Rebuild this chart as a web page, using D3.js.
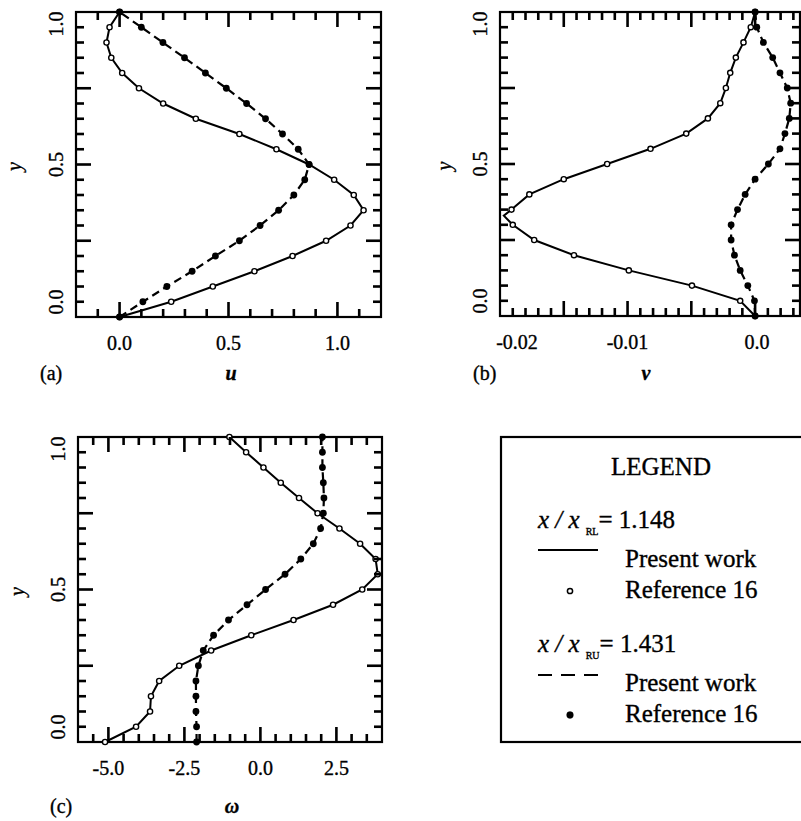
<!DOCTYPE html>
<html>
<head>
<meta charset="utf-8">
<script src="https://cdn.jsdelivr.net/npm/d3@7"></script>
<style>
  body { margin: 0; background: #fff; }
  svg { display: block; }
  .lbl { font-family: "Liberation Serif", "DejaVu Serif", serif; font-size: 20px; fill: #000; stroke: #000; stroke-width: 0.35px; }
</style>
</head>
<body>
<svg id="chart" width="801" height="821" font-family="Liberation Serif, serif"></svg>
<script>
// y stations shared by every profile (0, 0.05, ... 1.0)
const yStations = [0, 0.05, 0.1, 0.15, 0.2, 0.25, 0.3, 0.35, 0.4, 0.45, 0.5,
                   0.55, 0.6, 0.65, 0.7, 0.75, 0.8, 0.85, 0.9, 0.95, 1.0];

// (a) u velocity
const uLower = [0, 0.237, 0.428, 0.619, 0.794, 0.948, 1.06, 1.12, 1.075, 0.985, 0.87,
                0.72, 0.55, 0.35, 0.2, 0.089, 0.012, -0.038, -0.06, -0.046, 0];
const uUpper = [0, 0.107, 0.217, 0.333, 0.44, 0.55, 0.645, 0.73, 0.80, 0.85, 0.87,
                0.82, 0.748, 0.67, 0.583, 0.49, 0.394, 0.298, 0.199, 0.1, 0];

// (b) v velocity
const vLower = [0, -0.00117, -0.00495, -0.0099, -0.0142, -0.01732, -0.0190, -0.0191, -0.0177, -0.015, -0.0116,
                -0.0082, -0.0054, -0.0037, -0.00273, -0.00229, -0.00195, -0.00151, -0.00091, -0.00034, 0];
const vUpper = [0, -0.00005, -0.00057, -0.00117, -0.00162, -0.00188, -0.00188, -0.00138, -0.00078, 0.0, 0.00104,
                0.00195, 0.00234, 0.00268, 0.00279, 0.00252, 0.00195, 0.00138, 0.00065, 0.00013, 0];

// (c) vorticity
const wLower = [-5.11, -4.09, -3.63, -3.6, -3.33, -2.67, -1.62, -0.3, 1.09, 2.39, 3.35,
                3.86, 3.79, 3.28, 2.6, 1.88, 1.27, 0.67, 0.1, -0.47, -1.02];
const wUpper = [-2.1, -2.1, -2.12, -2.12, -2.12, -2.04, -1.88, -1.54, -1.05, -0.44, 0.17,
                0.81, 1.33, 1.74, 1.98, 2.07, 2.09, 2.07, 2.04, 2.04, 2.04];

// solid curve of (b) dips a little past the circles near y = 0.33
const vLineExtra = { y: 0.33, v: -0.0197 };

const yTicks = [0, 0.5, 1.0];
const yTickLabels = ["0.0", "0.5", "1.0"];
const uTicks = [0, 0.5, 1.0], uTickLabels = ["0.0", "0.5", "1.0"];
const vTicks = [-0.02, -0.01, 0], vTickLabels = ["-0.02", "-0.01", "0.0"];
const wTicks = [-5, -2.5, 0, 2.5], wTickLabels = ["-5.0", "-2.5", "0.0", "2.5"];

const svg = d3.select("#chart");
const tickMarks = [];   // filled in by panel(), drawn last

function panel(opts) {
  const x = d3.scaleLinear().domain(opts.xDomain).range([opts.left, opts.right]);
  const y = d3.scaleLinear().domain([0, 1]).range([opts.bottom, opts.top]);
  const g = svg.append("g");

  const isMajor = (v, step) => Math.abs(v / step - Math.round(v / step)) < 1e-6;
  const n0 = Math.ceil(opts.xDomain[0] / opts.xMinor - 1e-6);
  const n1 = Math.floor(opts.xDomain[1] / opts.xMinor + 1e-6);
  const xt = d3.range(n0, n1 + 1).map(i => +(i * opts.xMinor).toFixed(6))
    .filter(v => x(v) > opts.left + 1 && x(v) < opts.right - 1);
  const yt = d3.range(1, 20).map(i => +(i * 0.05).toFixed(3));

  // inward ticks on all four sides, as small filled rects
  const w = 2.6;
  xt.forEach(v => {
    const len = isMajor(v, opts.xMajor) ? 15 : 8;
    tickMarks.push({ x: x(v) - w / 2, y: opts.bottom - len, w: w, h: len });
    tickMarks.push({ x: x(v) - w / 2, y: opts.top, w: w, h: len });
  });
  yt.forEach(v => {
    const len = isMajor(v, 0.25) ? 15 : 8;
    tickMarks.push({ x: opts.left, y: y(v) - w / 2, w: len, h: w });
    tickMarks.push({ x: opts.right - len, y: y(v) - w / 2, w: len, h: w });
  });

  g.append("rect")
    .attr("x", opts.left).attr("y", opts.top)
    .attr("width", opts.right - opts.left).attr("height", opts.bottom - opts.top)
    .attr("fill", "none").attr("stroke", "#000").attr("stroke-width", 2.2);

  // tick labels
  opts.xTicks.forEach((v, i) => {
    g.append("text").attr("class", "lbl")
      .attr("x", x(v) + (opts.xLabelShift ? opts.xLabelShift[i] : 0))
      .attr("y", opts.bottom + 33)
      .attr("text-anchor", "middle").text(opts.xTickLabels[i]);
  });
  const yShift = [-15, 0, 12];
  yTicks.forEach((v, i) => {
    g.append("text").attr("class", "lbl")
      .attr("transform", `translate(${opts.left - 13},${y(v) + yShift[i]}) rotate(-90)`)
      .attr("text-anchor", "middle").text(yTickLabels[i]);
  });
  g.append("text").attr("class", "lbl")
    .attr("transform", `translate(${opts.yTitleX},${y(0.5) + 2}) rotate(-90)`)
    .attr("text-anchor", "middle").style("font-style", "italic").text("y");

  g.append("text").attr("class", "lbl").attr("x", opts.tagX).attr("y", opts.tagY).text(opts.tag);
  g.append("text").attr("class", "lbl").attr("x", opts.titleX).attr("y", opts.tagY)
    .attr("text-anchor", "middle")
    .style("font-style", "italic").style("font-weight", "bold").text(opts.title);

  // curves
  const clip = "clip-" + opts.tag.replace(/[()]/g, "");
  g.append("clipPath").attr("id", clip).append("rect")
    .attr("x", opts.left - 8).attr("y", opts.top - 8)
    .attr("width", opts.right - opts.left + 16).attr("height", opts.bottom - opts.top + 16);

  const line = d3.line().x(d => x(d[0])).y(d => y(d[1]));
  const plot = g.append("g").attr("clip-path", `url(#${clip})`);

  plot.append("path").datum(opts.upper)
    .attr("d", line).attr("fill", "none").attr("stroke", "#000")
    .attr("stroke-width", 2.2).attr("stroke-dasharray", "8,5");
  plot.append("path").datum(opts.lowerLine || opts.lower)
    .attr("d", line).attr("fill", "none").attr("stroke", "#000").attr("stroke-width", 2);

  plot.selectAll(null).data(opts.lower).enter().append("circle")
    .attr("cx", d => x(d[0])).attr("cy", d => y(d[1])).attr("r", 2.6)
    .attr("fill", "#fff").attr("stroke", "#000").attr("stroke-width", 1.4);
  plot.selectAll(null).data(opts.upper).enter().append("circle")
    .attr("cx", d => x(d[0])).attr("cy", d => y(d[1])).attr("r", 3.4)
    .attr("fill", "#000");
}

const zipY = arr => arr.map((v, i) => [v, yStations[i]]);

const vLine = zipY(vLower);
vLine.push([vLineExtra.v, vLineExtra.y]);
vLine.sort((a, b) => a[1] - b[1]);

panel({
  left: 76, right: 381, top: 12, bottom: 317,
  xDomain: [-0.2, 1.2], xMinor: 0.1, xMajor: 0.5,
  xTicks: uTicks, xTickLabels: uTickLabels,
  lower: zipY(uLower), upper: zipY(uUpper),
  tag: "(a)", tagX: 40, tagY: 380, title: "u", titleX: 231, yTitleX: 21
});

panel({
  left: 500, right: 800, top: 12, bottom: 316,
  xDomain: [-0.02, 0.00352], xMinor: 0.001, xMajor: 0.005,
  xTicks: vTicks, xTickLabels: vTickLabels, xLabelShift: [17, 0, 2],
  lower: zipY(vLower), lowerLine: vLine, upper: zipY(vUpper),
  tag: "(b)", tagX: 473, tagY: 380, title: "v", titleX: 646, yTitleX: 451
});

panel({
  left: 78, right: 382, top: 437, bottom: 742,
  xDomain: [-6, 4], xMinor: 0.5, xMajor: 2.5,
  xTicks: wTicks, xTickLabels: wTickLabels,
  lower: zipY(wLower), upper: zipY(wUpper),
  tag: "(c)", tagX: 50, tagY: 813, title: "\u03c9", titleX: 232, yTitleX: 24
});

svg.append("g").attr("id", "tickmarks")
  .selectAll("rect").data(tickMarks).join("rect")
  .attr("x", d => d.x).attr("y", d => d.y)
  .attr("width", d => d.w).attr("height", d => d.h)
  .attr("fill", "#000");

// legend
const lg = svg.append("g").attr("class", "lbl").style("font-size", "25px");
lg.append("rect").attr("x", 501).attr("y", 437).attr("width", 320).attr("height", 305)
  .attr("fill", "none").attr("stroke", "#000").attr("stroke-width", 2.2);
lg.append("text").attr("x", 661).attr("y", 475).attr("text-anchor", "middle").text("LEGEND");

function ratio(yb, sub, val) {
  const t = lg.append("text").attr("x", 538).attr("y", yb);
  t.append("tspan").style("font-style", "italic").text("x / x");
  t.append("tspan").attr("dx", 6).attr("dy", 7).style("font-size", "10px").text(sub);
  t.append("tspan").attr("dy", -7).text("= " + val);
}
ratio(528, "RL", "1.148");
lg.append("line").attr("x1", 538).attr("x2", 598).attr("y1", 550).attr("y2", 550)
  .attr("stroke", "#000").attr("stroke-width", 2);
lg.append("text").attr("x", 625).attr("y", 567).text("Present work");
lg.append("circle").attr("cx", 570).attr("cy", 591).attr("r", 2.6)
  .attr("fill", "#fff").attr("stroke", "#000").attr("stroke-width", 1.5);
lg.append("text").attr("x", 625).attr("y", 598).text("Reference 16");

ratio(652, "RU", "1.431");
lg.append("line").attr("x1", 538).attr("x2", 598).attr("y1", 675).attr("y2", 675)
  .attr("stroke", "#000").attr("stroke-width", 2).attr("stroke-dasharray", "14,9");
lg.append("text").attr("x", 625).attr("y", 691).text("Present work");
lg.append("circle").attr("cx", 570).attr("cy", 715).attr("r", 3.4).attr("fill", "#000");
lg.append("text").attr("x", 625).attr("y", 722).text("Reference 16");
</script>
</body>
</html>
